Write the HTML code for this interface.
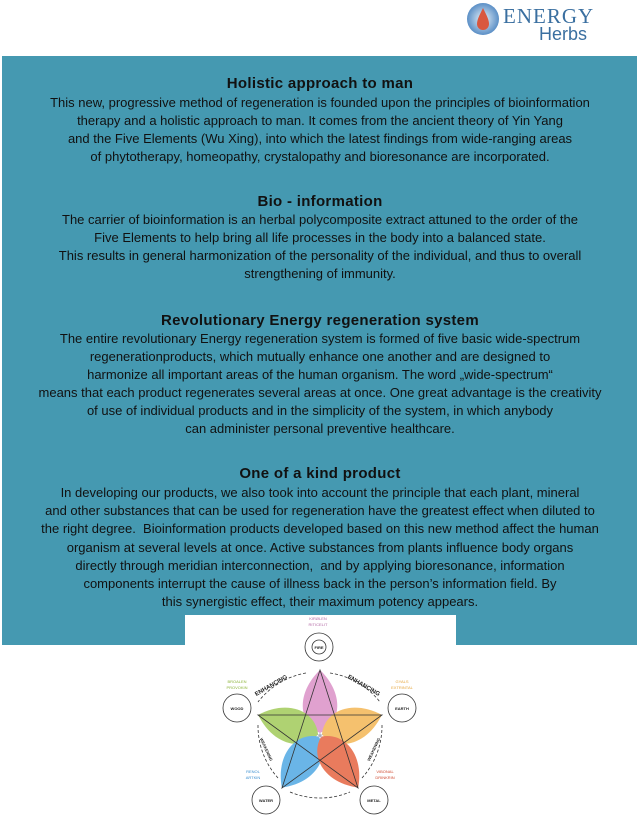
<!DOCTYPE html>
<html><head><meta charset="utf-8"><style>
body{margin:0;width:640px;height:821px;background:#fff;position:relative;overflow:hidden;font-family:"Liberation Sans",sans-serif}
#panel{position:absolute;left:2px;top:56px;width:635px;height:589px;background:#4599b1}
.h{position:absolute;left:0;width:640px;text-align:center;font-weight:bold;font-size:15px;color:#111;letter-spacing:0.3px}
.l{position:absolute;left:0;width:640px;text-align:center;font-size:13px;color:#111;white-space:nowrap}
</style></head><body>
<div id="panel"></div>
<svg style="position:absolute;left:466px;top:2px" width="36" height="36"><defs><radialGradient id="g"><stop offset="0" stop-color="#e8f2fa"/><stop offset="1" stop-color="#5b8fc6"/></radialGradient></defs><circle cx="17" cy="17" r="16" fill="url(#g)"/><path d="M17 6 C13 14 11 18 11 22 A6 6 0 0 0 23 22 C23 18 21 14 17 6Z" fill="#d9573f"/></svg>
<div style="position:absolute;left:503px;top:4px;font-size:21px;color:#3a6fa0;letter-spacing:1px;font-family:'Liberation Serif',serif">ENERGY</div>
<div style="position:absolute;left:539px;top:24px;font-size:18px;color:#3a6fa0">Herbs</div>

<div class="h" style="top:75px">Holistic approach to man</div>
<div class="l" style="top:95px">This new, progressive method of regeneration is founded upon the principles of bioinformation</div>
<div class="l" style="top:113px">therapy and a holistic approach to man. It comes from the ancient theory of Yin Yang</div>
<div class="l" style="top:131px">and the Five Elements (Wu Xing), into which the latest findings from wide-ranging areas</div>
<div class="l" style="top:149px">of phytotherapy, homeopathy, crystalopathy and bioresonance are incorporated.</div>

<div class="h" style="top:193px">Bio - information</div>
<div class="l" style="top:212px">The carrier of bioinformation is an herbal polycomposite extract attuned to the order of the</div>
<div class="l" style="top:230px">Five Elements to help bring all life processes in the body into a balanced state.</div>
<div class="l" style="top:248px">This results in general harmonization of the personality of the individual, and thus to overall</div>
<div class="l" style="top:266px">strengthening of immunity.</div>

<div class="h" style="top:312px">Revolutionary Energy regeneration system</div>
<div class="l" style="top:331px">The entire revolutionary Energy regeneration system is formed of five basic wide-spectrum</div>
<div class="l" style="top:349px">regenerationproducts, which mutually enhance one another and are designed to</div>
<div class="l" style="top:367px">harmonize all important areas of the human organism. The word „wide-spectrum“</div>
<div class="l" style="top:385px">means that each product regenerates several areas at once. One great advantage is the creativity</div>
<div class="l" style="top:403px">of use of individual products and in the simplicity of the system, in which anybody</div>
<div class="l" style="top:421px">can administer personal preventive healthcare.</div>

<div class="h" style="top:465px">One of a kind product</div>
<div class="l" style="top:485px">In developing our products, we also took into account the principle that each plant, mineral</div>
<div class="l" style="top:503px">and other substances that can be used for regeneration have the greatest effect when diluted to</div>
<div class="l" style="top:521px">the right degree.&nbsp; Bioinformation products developed based on this new method affect the human</div>
<div class="l" style="top:540px">organism at several levels at once. Active substances from plants influence body organs</div>
<div class="l" style="top:558px">directly through meridian interconnection,&nbsp; and by applying bioresonance, information</div>
<div class="l" style="top:576px">components interrupt the cause of illness back in the person’s information field. By</div>
<div class="l" style="top:594px">this synergistic effect, their maximum potency appears.</div>

<div style="position:absolute;left:185px;top:615px;width:271px;height:206px;background:#fff"></div>
<svg style="position:absolute;left:180px;top:610px" width="280" height="211" viewBox="0 0 280 211" font-family="Liberation Sans,sans-serif">
<defs>
<path id="leaf" d="M0 -65 C-24 -42 -22 -12 0 -2 C22 -12 24 -42 0 -65Z"/>
</defs>
<g transform="translate(140 125)" opacity="0.8">
<use href="#leaf" fill="#d98ac4"/>
<use href="#leaf" fill="#9cc84f" transform="rotate(-72)"/>
<use href="#leaf" fill="#f3b24a" transform="rotate(72)"/>
<use href="#leaf" fill="#45a3e2" transform="rotate(-144)"/>
<use href="#leaf" fill="#e45b35" transform="rotate(144)"/>
</g>
<text x="140" y="128" font-size="8" text-anchor="middle" fill="#aab">★</text>
<g stroke="#333" stroke-width="0.8" fill="none">
<path d="M140 60 L178 178 L78 105 L202 105 L102 178 Z"/>
<path d="M150 63 A78 78 0 0 1 200 92" stroke-dasharray="3 2"/>
<path d="M126 63 A78 78 0 0 0 78 92" stroke-dasharray="3 2"/>
<path d="M78 115 A78 78 0 0 0 98 168" stroke-dasharray="3 2"/>
<path d="M202 115 A78 78 0 0 1 182 168" stroke-dasharray="3 2"/>
<path d="M110 182 A78 78 0 0 0 170 182" stroke-dasharray="3 2"/>
<circle cx="139" cy="37" r="14"/><circle cx="139" cy="37" r="7"/>
<circle cx="57" cy="98" r="14"/><circle cx="222" cy="98" r="14"/>
<circle cx="86" cy="190" r="14"/><circle cx="194" cy="190" r="14"/>
</g>
<g font-size="4" text-anchor="middle" font-weight="bold" fill="#222">
<text x="139" y="39">FIRE</text><text x="57" y="100">WOOD</text><text x="222" y="100">EARTH</text><text x="86" y="192">WATER</text><text x="194" y="192">METAL</text>
<text x="92" y="77" font-size="6" transform="rotate(-30 92 77)">ENHANCING</text>
<text x="183" y="77" font-size="6" transform="rotate(30 183 77)">ENHANCING</text>
<text x="85" y="140" font-size="4" transform="rotate(65 85 140)">WEAKENING</text>
<text x="195" y="140" font-size="4" transform="rotate(-65 195 140)">WEAKENING</text>
</g>
<g font-size="4" text-anchor="middle">
<text x="138" y="10" fill="#b46aa6">KIRØLEN</text><text x="138" y="16" fill="#b46aa6">RITICELIT</text>
<text x="57" y="73" fill="#8db53c">BROALEN</text><text x="57" y="79" fill="#8db53c">PROVOKIN</text>
<text x="222" y="73" fill="#e5a53a">GYALS</text><text x="222" y="79" fill="#e5a53a">EXTRINTAL</text>
<text x="73" y="163" fill="#3b8fd0">RENOL</text><text x="73" y="169" fill="#3b8fd0">ARTKIN</text>
<text x="205" y="163" fill="#d04a30">VIBONAL</text><text x="205" y="169" fill="#d04a30">DRINKRIN</text>
</g>
</svg>
</body></html>
